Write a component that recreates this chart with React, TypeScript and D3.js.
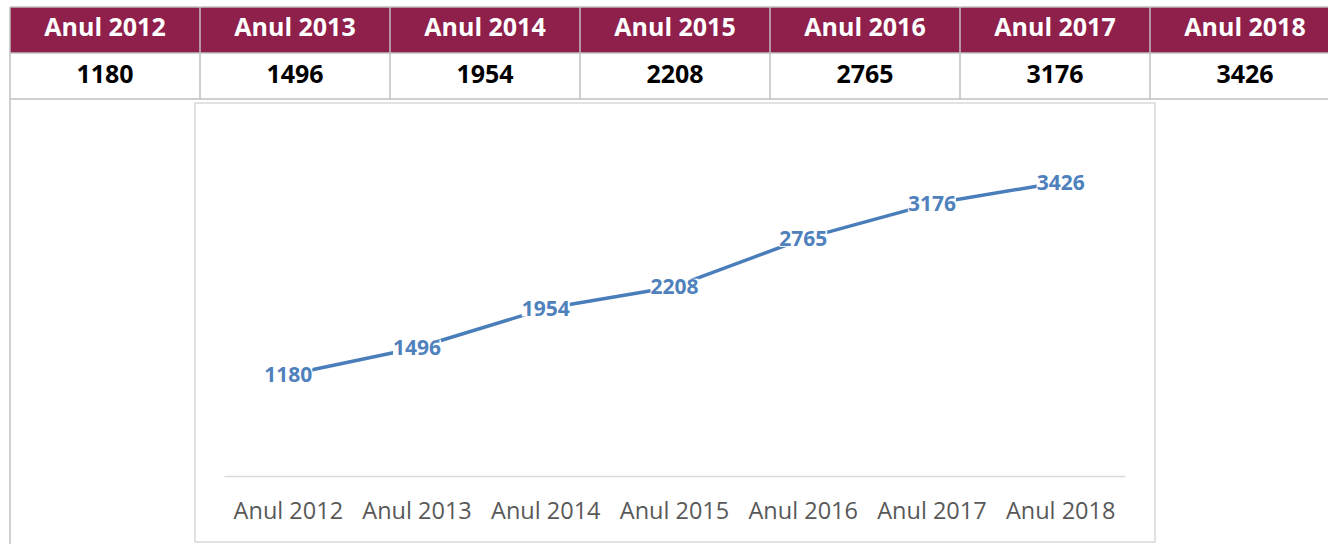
// Evolutie anuala - tabel + grafic liniar (D3)

import { useEffect, useRef } from "react";
import * as d3 from "d3";

const years = ["Anul 2012", "Anul 2013", "Anul 2014", "Anul 2015", "Anul 2016", "Anul 2017", "Anul 2018"];
const values = [1180, 1496, 1954, 2208, 2765, 3176, 3426];
const yDomain = [0, 4000];

const WIDTH = 1328;
const HEIGHT = 544;
const FONT = "'Open Sans', 'Liberation Sans', sans-serif";

export default function App() {
  const svgRef = useRef<SVGSVGElement>(null);

  useEffect(() => {
    if (!svgRef.current) return;
    const svg = d3.select(svgRef.current);
    svg.selectAll("*").remove();

    const grid = "#bfbfbf";
    const maroon = "#8f1f4b";

    // ---- table ----
    const colW = 190;
    const tableX = 10;
    const rowTop = 7;
    const rowH = 46;
    const colX = d3.range(years.length).map((i) => tableX + i * colW);

    const table = svg.append("g");

    table
      .selectAll("rect.head")
      .data(years)
      .join("rect")
      .attr("class", "head")
      .attr("x", (_, i) => colX[i])
      .attr("y", rowTop)
      .attr("width", colW)
      .attr("height", rowH)
      .attr("fill", maroon);

    table
      .selectAll("text.head")
      .data(years)
      .join("text")
      .attr("class", "head")
      .attr("x", (_, i) => colX[i] + colW / 2)
      .attr("y", rowTop + 29)
      .attr("text-anchor", "middle")
      .attr("fill", "#ffffff")
      .style("font-family", FONT)
      .style("font-size", "25px")
      .style("font-weight", "bold")
      .text((d) => d);

    table
      .selectAll("text.val")
      .data(values)
      .join("text")
      .attr("class", "val")
      .attr("x", (_, i) => colX[i] + colW / 2)
      .attr("y", rowTop + rowH + 30)
      .attr("text-anchor", "middle")
      .attr("fill", "#000000")
      .style("font-family", FONT)
      .style("font-size", "25px")
      .style("font-weight", "bold")
      .text((d) => d);

    // horizontal grid lines of the table
    [rowTop, rowTop + rowH, rowTop + 2 * rowH].forEach((y) => {
      table.append("line")
        .attr("x1", tableX).attr("x2", WIDTH + 20)
        .attr("y1", y).attr("y2", y)
        .attr("stroke", grid).attr("stroke-width", 1.5);
    });
    // vertical lines in the first two rows
    colX.forEach((x) => {
      table.append("line")
        .attr("x1", x).attr("x2", x)
        .attr("y1", rowTop).attr("y2", rowTop + 2 * rowH)
        .attr("stroke", grid).attr("stroke-width", 1.5);
    });
    // left border of the merged third row
    table.append("line")
      .attr("x1", tableX).attr("x2", tableX)
      .attr("y1", rowTop + 2 * rowH).attr("y2", HEIGHT)
      .attr("stroke", grid).attr("stroke-width", 1.5);

    // ---- chart ----
    const chartBox = { x: 195, y: 103, w: 960, h: 439 };
    svg.append("rect")
      .attr("x", chartBox.x)
      .attr("y", chartBox.y)
      .attr("width", chartBox.w)
      .attr("height", chartBox.h)
      .attr("fill", "#ffffff")
      .attr("stroke", "#d9d9d9")
      .attr("stroke-width", 1.5);

    const plot = { left: 224, right: 1125, top: 133, bottom: 476 };

    const x = d3.scaleBand<string>().domain(years).range([plot.left, plot.right]);
    const y = d3.scaleLinear().domain(yDomain).range([plot.bottom, plot.top]);
    const cx = (d: string) => (x(d) ?? 0) + x.bandwidth() / 2;

    // category axis
    const axis = svg.append("g").attr("transform", `translate(0, ${plot.bottom})`)
      .call(d3.axisBottom(x).tickSize(0).tickPadding(0));
    axis.select(".domain").attr("stroke", "#d9d9d9").attr("stroke-width", 1.5);
    axis.selectAll("text")
      .attr("dy", null)
      .attr("y", 43)
      .attr("fill", "#595959")
      .style("font-family", FONT)
      .style("font-size", "23.5px");

    const pts = years.map((d, i) => ({ year: d, value: values[i] }));

    const line = d3.line<{ year: string; value: number }>()
      .x((d) => cx(d.year))
      .y((d) => y(d.value));

    svg.append("path")
      .datum(pts)
      .attr("d", line)
      .attr("fill", "none")
      .attr("stroke", "#4a7ebb")
      .attr("stroke-width", 3.5)
      .attr("stroke-linejoin", "round");

    // data labels, centred on the points, with white backing
    const labels = svg.append("g");
    pts.forEach((p) => {
      const g = labels.append("g");
      const bg = g.append("rect").attr("fill", "#ffffff");
      const t = g.append("text")
        .attr("x", cx(p.year))
        .attr("y", y(p.value))
        .attr("dy", "0.35em")
        .attr("text-anchor", "middle")
        .attr("fill", "#4f81bd")
        .style("font-family", FONT)
        .style("font-size", "21px")
        .style("font-weight", "bold")
        .text(p.value);
      const bb = (t.node() as SVGTextElement).getBBox();
      bg.attr("x", bb.x).attr("y", y(p.value) - 8)
        .attr("width", bb.width).attr("height", 16);
    });
  }, []);

  return (
    <svg
      ref={svgRef}
      width={WIDTH}
      height={HEIGHT}
      style={{ position: "absolute", left: 0, top: 0, background: "#ffffff" }}
    />
  );
}
